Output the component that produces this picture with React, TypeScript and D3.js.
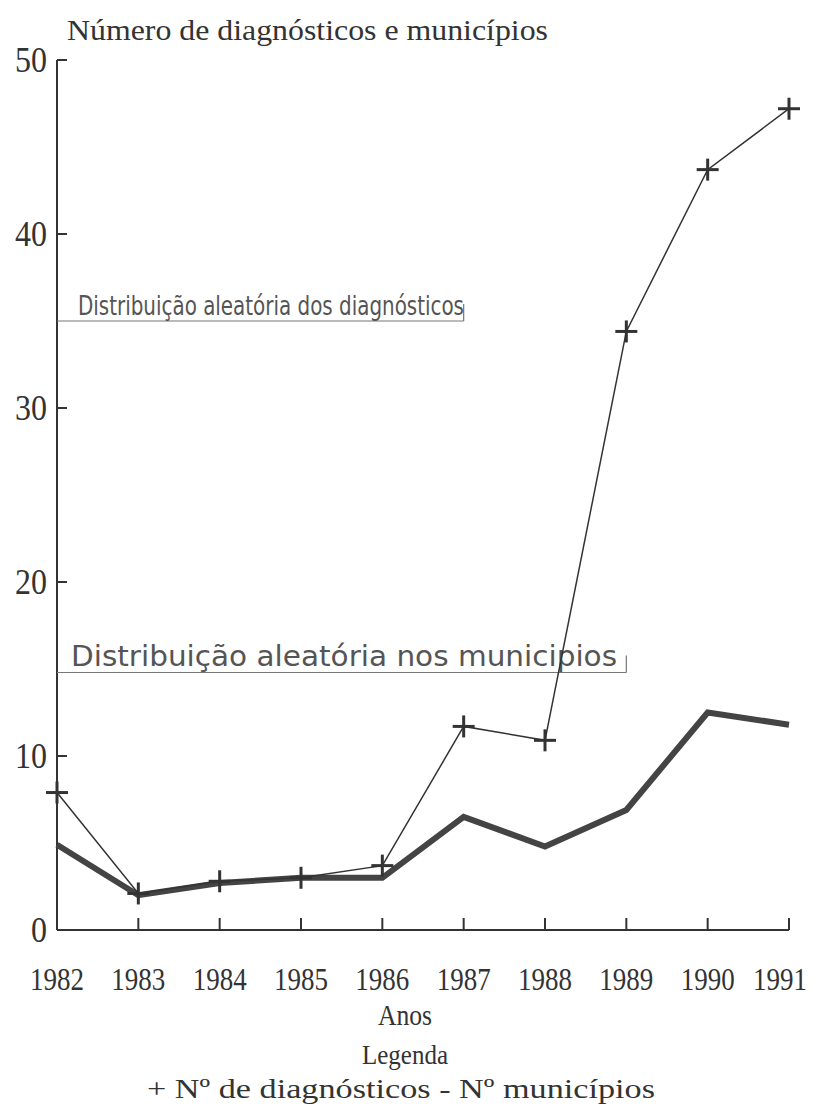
import React from 'react';
import * as d3 from 'd3';

const YEARS = [1982, 1983, 1984, 1985, 1986, 1987, 1988, 1989, 1990, 1991];
const DIAGNOSTICOS = [7.9, 2.1, 2.8, 3.0, 3.7, 11.7, 10.9, 34.4, 43.7, 47.2];
const MUNICIPIOS = [4.9, 2.0, 2.7, 3.0, 3.0, 6.5, 4.8, 6.9, 12.5, 11.8];
const Y_TICKS = [0, 10, 20, 30, 40, 50];

// random-distribution reference lines: value, last year, label
const REF_LINES = [
  { value: 35, endYear: 1987, label: 'Distribuição aleatória dos diagnósticos', size: 26, len: 386, dx: 21 },
  { value: 14.8, endYear: 1989, label: 'Distribuição aleatória nos municipios', size: 28, len: 546, dx: 14 },
];

const SERIF = '"Liberation Serif", "Times New Roman", serif';
const SANS = '"DejaVu Sans", "Open Sans", sans-serif';

export default function App() {
  const width = 820;
  const height = 1107;
  const x = d3.scaleLinear().domain([1982, 1991]).range([57, 789]);
  const y = d3.scaleLinear().domain([0, 50]).range([930, 60]);

  const line = d3.line<number>().x((_, i) => x(YEARS[i])).y(d => y(d));

  const ink = '#333';

  return (
    <svg width={width} height={height} style={{ position: 'absolute', left: 0, top: 0, background: '#fff' }}>
      {/* title */}
      <text x={67} y={40} fontFamily={SERIF} fontSize={30} fill={ink} textLength={481} lengthAdjust="spacingAndGlyphs">
        Número de diagnósticos e municípios
      </text>

      {/* axes */}
      <line x1={x(1982)} x2={x(1982)} y1={y(0)} y2={y(50)} stroke={ink} strokeWidth={2} />
      <line x1={x(1982)} x2={x(1991)} y1={y(0)} y2={y(0)} stroke={ink} strokeWidth={2} />
      {Y_TICKS.map(t => (
        <g key={t}>
          {t > 0 && <line x1={x(1982)} x2={x(1982) + 10} y1={y(t)} y2={y(t)} stroke={ink} strokeWidth={2} />}
          <text x={47} y={y(t) + 12} textAnchor="end" fontFamily={SERIF} fontSize={35} fill={ink}
            textLength={String(t).length * 16} lengthAdjust="spacingAndGlyphs">{t}</text>
        </g>
      ))}
      {YEARS.map(yr => (
        <g key={yr}>
          {yr > 1982 && <line x1={x(yr)} x2={x(yr)} y1={y(0)} y2={y(0) - 12} stroke={ink} strokeWidth={2} />}
          <text x={Math.min(x(yr), 780)} y={990} textAnchor="middle" fontFamily={SERIF} fontSize={32} fill={ink}
            textLength={54} lengthAdjust="spacingAndGlyphs">{yr}</text>
        </g>
      ))}
      <text x={405} y={1025} textAnchor="middle" fontFamily={SERIF} fontSize={30} fill={ink}
        textLength={54} lengthAdjust="spacingAndGlyphs">Anos</text>

      {/* reference lines */}
      {REF_LINES.map(r => (
        <g key={r.label}>
          <line x1={x(1982)} x2={x(r.endYear)} y1={y(r.value)} y2={y(r.value)} stroke="#777" strokeWidth={1.2} />
          <line x1={x(r.endYear)} x2={x(r.endYear)} y1={y(r.value)} y2={y(r.value) - 17} stroke="#777" strokeWidth={1.2} />
          <text x={x(1982) + r.dx} y={y(r.value) - 6} fontFamily={SANS} fontSize={r.size} fill="#555"
            textLength={r.len} lengthAdjust="spacingAndGlyphs">{r.label}</text>
        </g>
      ))}

      {/* series */}
      <path d={line(MUNICIPIOS) ?? ''} fill="none" stroke="#444" strokeWidth={6} strokeLinejoin="miter" />
      <path d={line(DIAGNOSTICOS) ?? ''} fill="none" stroke={ink} strokeWidth={1.5} />
      {DIAGNOSTICOS.map((v, i) => (
        <g key={i} stroke={ink} strokeWidth={3}>
          <line x1={x(YEARS[i]) - 11} x2={x(YEARS[i]) + 11} y1={y(v)} y2={y(v)} />
          <line x1={x(YEARS[i])} x2={x(YEARS[i])} y1={y(v) - 11} y2={y(v) + 11} />
        </g>
      ))}

      {/* legend */}
      <text x={405} y={1064} textAnchor="middle" fontFamily={SERIF} fontSize={28} fill={ink}
        textLength={86} lengthAdjust="spacingAndGlyphs">Legenda</text>
      <text x={401} y={1098} textAnchor="middle" fontFamily={SERIF} fontSize={28} fill={ink}
        textLength={508} lengthAdjust="spacingAndGlyphs">+ Nº de diagnósticos  - Nº municípios</text>
    </svg>
  );
}
